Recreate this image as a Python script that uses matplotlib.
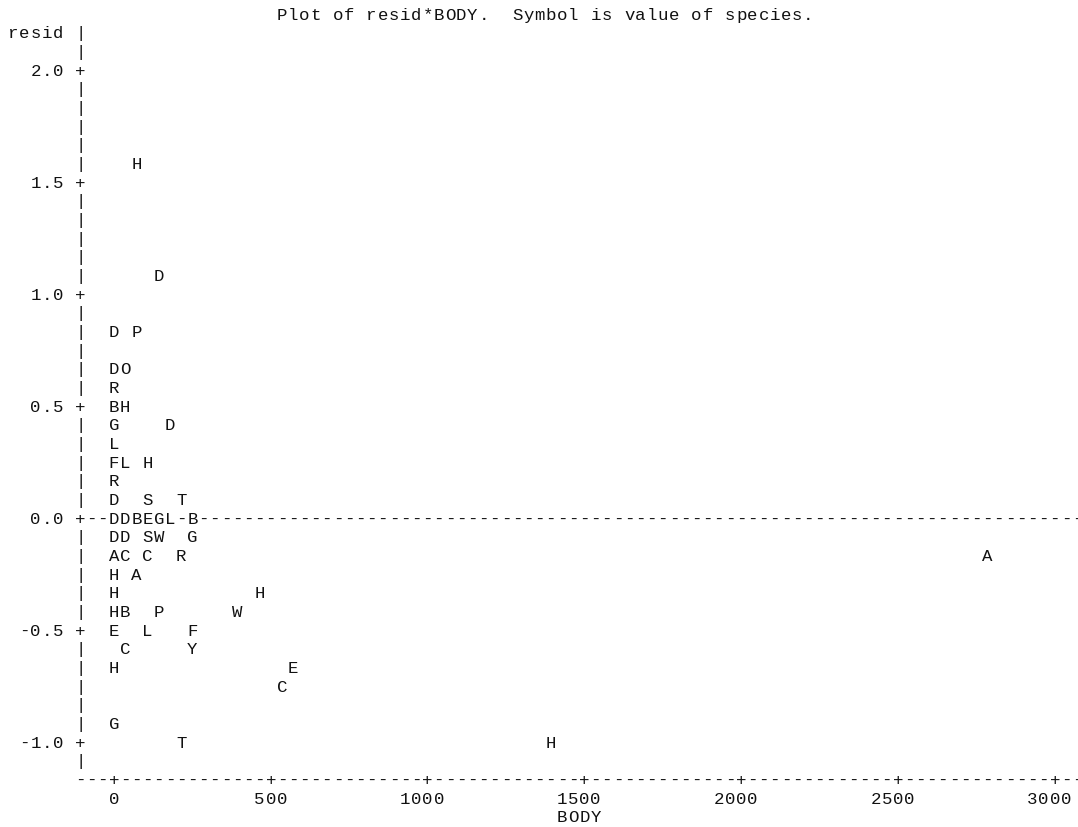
import matplotlib
matplotlib.use('Agg')
import matplotlib.pyplot as plt

# species symbol, body weight, residual
species = ['H', 'D', 'D', 'P', 'D', 'O', 'R', 'B', 'H', 'G', 'D', 'L',
           'F', 'L', 'H', 'R', 'D', 'S', 'T',
           'D', 'D', 'B', 'E', 'G', 'L', 'B',
           'D', 'D', 'S', 'W', 'G',
           'A', 'C', 'C', 'R', 'A',
           'H', 'A', 'H', 'H',
           'H', 'B', 'P', 'W',
           'E', 'L', 'F', 'C', 'Y',
           'H', 'E', 'C', 'G', 'T', 'H']
body = [71, 143, 5, 71, 5, 36, 5, 5, 36, 5, 179, 5,
        5, 36, 107, 5, 5, 107, 214,
        5, 36, 71, 107, 143, 179, 250,
        5, 36, 107, 143, 250,
        5, 36, 107, 214, 2786,
        5, 71, 5, 464,
        5, 36, 143, 393,
        5, 107, 250, 36, 250,
        5, 571, 536, 5, 214, 1393]
resid = [1.58, 1.08, 0.83, 0.83, 0.67, 0.67, 0.58, 0.50, 0.50, 0.42, 0.42, 0.33,
         0.25, 0.25, 0.25, 0.17, 0.08, 0.08, 0.08,
         0.00, 0.00, 0.00, 0.00, 0.00, 0.00, 0.00,
         -0.08, -0.08, -0.08, -0.08, -0.08,
         -0.17, -0.17, -0.17, -0.17, -0.17,
         -0.25, -0.25, -0.33, -0.33,
         -0.42, -0.42, -0.42, -0.42,
         -0.50, -0.50, -0.50, -0.58, -0.58,
         -0.67, -0.67, -0.75, -0.92, -1.00, -1.00]

xticks = [0, 500, 1000, 1500, 2000, 2500, 3000]
yticks = [2.0, 1.5, 1.0, 0.5, 0.0, -0.5, -1.0]
title = 'Plot of resid*BODY.  Symbol is value of species.'

# line printer cell size: 14 columns per 500, 6 rows per 0.5
XCELL = 500 / 14
YCELL = 0.5 / 6
YTOP = 2.0

fig = plt.figure(figsize=(10.78, 8.28), dpi=100)
ax = fig.add_axes([0, 0, 1, 1])
ax.set_xlim(-363.5, 3074)
ax.set_ylim(-1.379, 2.317)
ax.axis('off')

font = dict(family=['Liberation Mono', 'DejaVu Sans Mono'], fontsize=12.5,
            color='#111111', ha='center', va='center')


def put(col, row, s):
    # write a string one character per printer cell
    for i, ch in enumerate(s):
        if ch != ' ':
            ax.text((col + i) * XCELL, YTOP - row * YCELL, ch, **font)


AXCOL = -3
LASTCOL = 86
ZEROROW = round(YTOP / YCELL)
BOTTOM = round((YTOP - yticks[-1]) / YCELL) + 2

# cells taken by the points
cells = {}
for s, b, r in zip(species, body, resid):
    cells[(round(b / XCELL), round((YTOP - r) / YCELL))] = s

put(15, -3, title)
put(-9, -2, 'resid')

# vertical axis
tickrows = [round((YTOP - v) / YCELL) for v in yticks]
for k in range(-2, BOTTOM):
    put(AXCOL, k, '+' if k in tickrows else '|')
for v, k in zip(yticks, tickrows):
    lab = f'{v:.1f}'
    put(AXCOL - 2 - len(lab) + 1, k, lab)

# reference line at zero
for j in range(AXCOL + 1, LASTCOL + 1):
    if (j, ZEROROW) not in cells:
        put(j, ZEROROW, '-')

# horizontal axis
tickcols = [round(v / XCELL) for v in xticks]
for j in range(AXCOL, LASTCOL + 1):
    put(j, BOTTOM, '+' if j in tickcols else '-')
for v, j in zip(xticks, tickcols):
    lab = str(v)
    put(j - len(lab) // 2, BOTTOM + 1, lab)
put(42 - 2, BOTTOM + 2, 'BODY')

# the points themselves
for (j, k), s in cells.items():
    put(j, k, s)

fig.savefig('out.png', dpi=100, facecolor='white')
